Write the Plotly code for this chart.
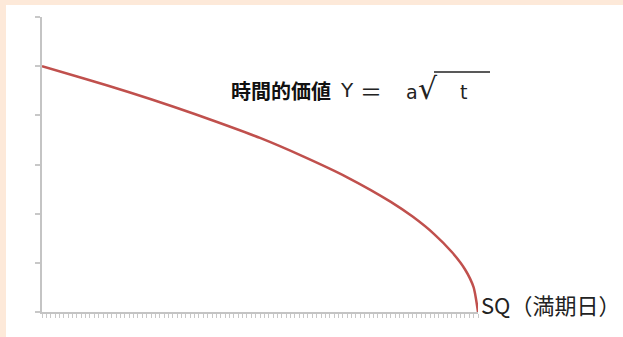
import plotly.graph_objects as go

# Data (days elapsed, time value)
days = [0, 10, 20, 30, 40, 50, 60, 70, 80, 85, 90, 94, 97, 99, 100]
time_value = [5.0, 4.74, 4.47, 4.18, 3.87, 3.54, 3.16, 2.74, 2.24, 1.94, 1.58, 1.22, 0.87, 0.5, 0.0]
x_max = 100
y_max = 6

W, H = 623, 337
L, R, T, B = 42, 478, 17, 312  # plot area in pixels


def px(x):
    return (x - L) / (R - L)


def py(y):
    return (B - y) / (B - T)


fig = go.Figure()
fig.add_trace(go.Scatter(
    x=days, y=time_value, mode="lines",
    line=dict(color="#c0504d", width=2.5, shape="spline", smoothing=0.6),
    hoverinfo="skip", showlegend=False,
))

axis_col = "#c4c4c4"
fig.update_xaxes(range=[0, x_max], showgrid=False, zeroline=False,
                 showline=True, linecolor=axis_col, linewidth=2,
                 ticks="outside", dtick=1, tick0=0, ticklen=4, tickwidth=1,
                 tickcolor="#c8c8c8", showticklabels=False, fixedrange=True)
fig.update_yaxes(range=[0, y_max], showgrid=False, zeroline=False,
                 showline=True, linecolor=axis_col, linewidth=2,
                 ticks="outside", dtick=1, tick0=0, ticklen=5, tickwidth=1.5,
                 tickcolor="#c8c8c8", showticklabels=False, fixedrange=True)

jp = "Noto Sans CJK JP"
ann = []
ann.append(dict(text="<b>時間的価値</b>", x=px(229), y=py(90), xanchor="left", yanchor="middle",
                font=dict(family=jp, size=20, color="#111")))
ann.append(dict(text="Y", x=px(347), y=py(90), xanchor="center", yanchor="middle",
                font=dict(family="DejaVu Sans", size=20, color="#222")))
ann.append(dict(text="＝", x=px(371), y=py(90), xanchor="center", yanchor="middle",
                font=dict(family=jp, size=22, color="#222")))
ann.append(dict(text="a", x=px(412), y=py(92), xanchor="center", yanchor="middle",
                font=dict(family="DejaVu Sans", size=19, color="#222")))
ann.append(dict(text="√", x=px(428), y=py(88), xanchor="center", yanchor="middle",
                font=dict(family="DejaVu Sans", size=30, color="#222")))
ann.append(dict(text="t", x=px(463), y=py(92), xanchor="center", yanchor="middle",
                font=dict(family="DejaVu Sans", size=19, color="#222")))
ann.append(dict(text="SQ（満期日）", x=px(479), y=py(304), xanchor="left", yanchor="middle",
                font=dict(family=jp, size=22, color="#222")))
for a in ann:
    a.update(xref="paper", yref="paper", showarrow=False)

shapes = [
    # white page inside the peach frame
    dict(type="rect", xref="paper", yref="paper", x0=px(6), x1=px(W + 5), y0=py(5), y1=py(H + 5),
         fillcolor="white", line=dict(width=0), layer="below"),
    # overline of the radical
    dict(type="line", xref="paper", yref="paper", x0=px(434), x1=px(490), y0=py(72), y1=py(72),
         line=dict(color="#222", width=1.5)),
]

fig.update_layout(
    width=W, height=H,
    margin=dict(l=L, r=W - R, t=T, b=H - B),
    paper_bgcolor="#fde9d9", plot_bgcolor="rgba(0,0,0,0)",
    annotations=ann, shapes=shapes,
)

fig.write_html("out.html", config={"displayModeBar": False},
               post_script="document.body.style.margin='0';")
